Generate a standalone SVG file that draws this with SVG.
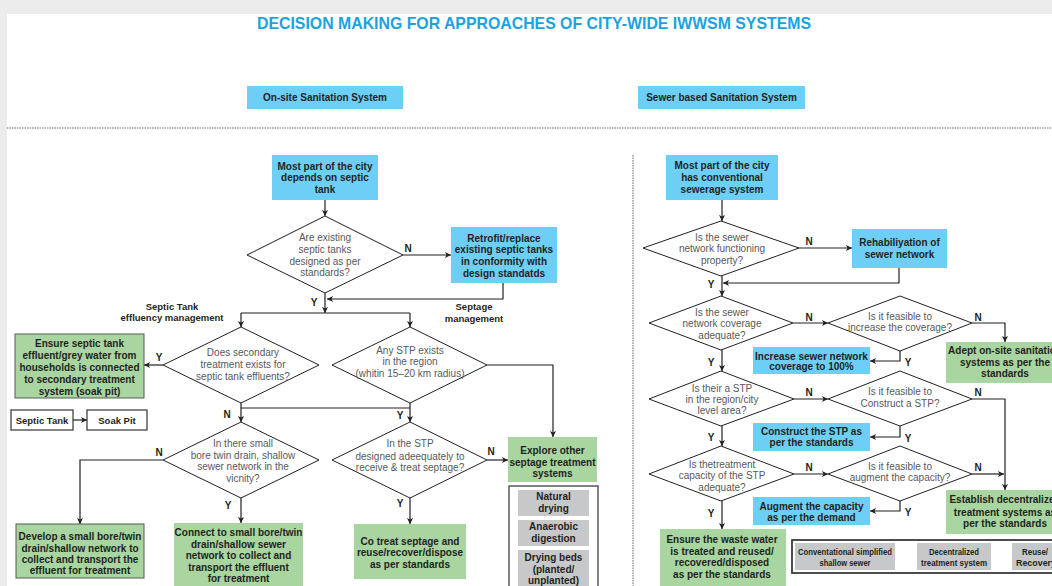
<svg xmlns="http://www.w3.org/2000/svg" width="1052" height="586" viewBox="0 0 1052 586">
<defs>
<marker id="ah" viewBox="0 0 10 10" refX="10" refY="5" markerWidth="7" markerHeight="6" markerUnits="userSpaceOnUse" orient="auto"><path d="M0,0 L10,5 L0,10 L2.5,5 z" fill="#231f20"/></marker>
<style>
text{font-family:"Liberation Sans Narrow","Arial Narrow","Liberation Sans",sans-serif;text-anchor:middle;font-size:10px}
.b{font-weight:bold;fill:#231f20}
.q{fill:#58595b}
.s{font-size:9.5px}
.blue{fill:#6dcff6}
.green{fill:#a8d5a0}
.gray{fill:#c7c8ca}
.gb{fill:#a8d5a0;stroke:#58595b;stroke-width:1}
.dm{fill:#fff;stroke:#231f20;stroke-width:1}
.c path,.c line{fill:none;stroke:#231f20;stroke-width:1.2}
.a{marker-end:url(#ah)}
.lbl{font-weight:bold;fill:#231f20;font-size:10px}
.lb2{font-weight:bold;fill:#231f20;font-size:9.5px}
</style>
</defs>
<rect width="1052" height="586" fill="#ececec"/>
<rect x="7" y="14" width="1045" height="572" fill="#fff"/>
<text x="534" y="29" style="font-size:17px;font-weight:bold;fill:#1aa3df" textLength="554" lengthAdjust="spacingAndGlyphs">DECISION MAKING FOR APPROACHES OF CITY-WIDE IWWSM SYSTEMS</text>
<g id="hdr-onsite"><rect class="blue" x="247" y="86" width="156" height="23"/><text class="b" x="325" y="101">On-site Sanitation System</text></g>
<g id="hdr-sewer"><rect class="blue" x="638" y="86" width="167" height="23"/><text class="b" x="721.5" y="101">Sewer based Sanitation System</text></g>
<line x1="7" y1="128" x2="1052" y2="128" stroke="#9a9a9a" stroke-width="1.5" stroke-dasharray="1.5,1"/>
<line x1="633" y1="155" x2="633" y2="586" stroke="#9a9a9a" stroke-width="1.5" stroke-dasharray="1.5,1"/>

<g class="c" id="connectors">
<path class="a" d="M325,200 V216"/>
<path class="a" d="M403,255 H451"/>
<path class="a" d="M503,283 V299 H327"/>
<path class="a" d="M325,293 V313"/>
<path d="M241,313 H410"/>
<path class="a" d="M241,313 V327"/>
<path class="a" d="M410,313 V327"/>
<path class="a" d="M163,365 H144"/>
<path class="a" d="M73,420 H87"/>
<path class="a" d="M241,403 V422"/>
<path d="M241,408 H410"/>
<path class="a" d="M410,403 V422"/>
<path class="a" d="M163,460 H80 V524"/>
<path class="a" d="M241,498 V523"/>
<path class="a" d="M487,365 H553 V437"/>
<path class="a" d="M487,460 H508"/>
<path class="a" d="M410,498 V524"/>
<path class="a" d="M722,200 V221"/>
<path class="a" d="M799,248 H852"/>
<path class="a" d="M899,268 V283 H723"/>
<path class="a" d="M722,276 V296"/>
<path class="a" d="M793,323 H828"/>
<path class="a" d="M972,323 H1005 V342"/>
<path class="a" d="M722,350 V371"/>
<path class="a" d="M900,351 V361 H870"/>
<path class="a" d="M794,399 H828"/>
<path class="a" d="M972,399 H1005 V490"/>
<path class="a" d="M900,426 V437 H870"/>
<path class="a" d="M722,426 V446"/>
<path class="a" d="M794,474 H828"/>
<path class="a" d="M972,474 H1004"/>
<path class="a" d="M900,501 V511 H870"/>
<path class="a" d="M722,501 V529"/>
<path class="a" d="M897,557 H915"/>
<path class="a" d="M993,557 H1010"/>
</g>

<g id="labels">
<text class="lbl" x="408" y="251.5">N</text>
<text class="lbl" x="314" y="305.5">Y</text>
<text class="lb2" x="474" y="309.5">Septage</text>
<text class="lb2" x="474" y="321.5">management</text>
<text class="lb2" x="172" y="309.5">Septic Tank</text>
<text class="lb2" x="172" y="320.5">effluency management</text>
<text class="lbl" x="159" y="360.5">Y</text>
<text class="lbl" x="227" y="417.5">N</text>
<text class="lbl" x="159" y="455.5">N</text>
<text class="lbl" x="228" y="508.5">Y</text>
<text class="lbl" x="400" y="418.5">Y</text>
<text class="lbl" x="491" y="454.5">N</text>
<text class="lbl" x="400" y="506.5">Y</text>
<text class="lbl" x="809" y="244.5">N</text>
<text class="lbl" x="711" y="287.5">Y</text>
<text class="lbl" x="809" y="320.5">N</text>
<text class="lbl" x="978" y="320.5">N</text>
<text class="lbl" x="711" y="365.5">Y</text>
<text class="lbl" x="908" y="365.5">Y</text>
<text class="lbl" x="809" y="395.5">N</text>
<text class="lbl" x="978" y="395.5">N</text>
<text class="lbl" x="711" y="440.5">Y</text>
<text class="lbl" x="908" y="441.5">Y</text>
<text class="lbl" x="809" y="470.5">N</text>
<text class="lbl" x="978" y="470.5">N</text>
<text class="lbl" x="711" y="516.5">Y</text>
<text class="lbl" x="908" y="515.5">Y</text>
</g>

<g id="n-septic-city"><rect class="blue" x="272" y="155" width="106" height="45"/>
<text class="b" x="325" y="169.5">Most part of the city</text><text class="b" x="325" y="180.5">depends on septic</text><text class="b" x="325" y="192.5">tank</text></g>
<g id="d-existing"><polygon class="dm" points="325,216 403,255 325,293 247,255"/>
<text class="q" x="325" y="241">Are existing</text><text class="q" x="325" y="252.5">septic tanks</text><text class="q" x="325" y="264.5">designed as per</text><text class="q" x="325" y="275.5">standards?</text></g>
<g id="n-retrofit"><rect class="blue" x="451" y="227" width="106" height="56"/>
<text class="b" x="504" y="241.5">Retrofit/replace</text><text class="b" x="504" y="253">existing septic tanks</text><text class="b" x="504" y="264.5">in conformity with</text><text class="b" x="504" y="276.5">design standatds</text></g>
<g id="d-secondary"><polygon class="dm" points="241,327 319,365 241,403 163,365"/>
<text class="q" x="243" y="355.5">Does secondary</text><text class="q" x="243" y="367.5">treatment exists for</text><text class="q" x="243" y="379.5">septic tank effluents?</text></g>
<g id="n-ensure-septic"><rect class="gb" x="15" y="334" width="129" height="64"/>
<text class="b" x="79.5" y="346.5">Ensure septic tank</text><text class="b" x="79.5" y="359">effluent/grey water from</text><text class="b" x="79.5" y="371">households is connected</text><text class="b" x="79.5" y="383">to secondary treatment</text><text class="b" x="79.5" y="395">system (soak pit)</text></g>
<g id="n-septic-tank"><rect x="11" y="410" width="62" height="20" fill="#fff" stroke="#231f20" stroke-width="1.1"/><text class="b" x="42" y="423.5" style="font-size:9.5px">Septic Tank</text></g>
<g id="n-soak-pit"><rect x="87" y="410" width="60" height="20" fill="#fff" stroke="#231f20" stroke-width="1.1"/><text class="b" x="117" y="423.5" style="font-size:9.5px">Soak Pit</text></g>
<g id="d-small-bore"><polygon class="dm" points="241,422 319,460 241,498 163,460"/>
<text class="q" x="243" y="446.5">In there small</text><text class="q" x="243" y="458.5">bore twin drain, shallow</text><text class="q" x="243" y="469.5">sewer network in the</text><text class="q" x="243" y="481.5">vicnity?</text></g>
<g id="n-develop"><rect class="gb" x="16" y="524" width="128" height="54"/>
<text class="b" x="80" y="539.5">Develop a small bore/twin</text><text class="b" x="80" y="551.5">drain/shallow network to</text><text class="b" x="80" y="562.5">collect and transport the</text><text class="b" x="80" y="573.5">effluent for treatment</text></g>
<g id="n-connect"><rect class="green" x="174" y="523" width="129" height="63"/>
<text class="b" x="238.5" y="535.5">Connect to small bore/twin</text><text class="b" x="238.5" y="547.5">drain/shallow sewer</text><text class="b" x="238.5" y="558.5">network to collect and</text><text class="b" x="238.5" y="570.5">transport the effluent</text><text class="b" x="238.5" y="581.5">for treatment</text></g>
<g id="d-any-stp"><polygon class="dm" points="410,327 487,365 410,403 332,365"/>
<text class="q" x="410" y="353.5">Any STP exists</text><text class="q" x="410" y="364.5">in the region</text><text class="q" x="410" y="376.5">(whitin 15–20 km radius)</text></g>
<g id="d-stp-designed"><polygon class="dm" points="410,422 487,460 410,498 332,460"/>
<text class="q" x="410" y="446.5">In the STP</text><text class="q" x="410" y="459.5">designed adeequately to</text><text class="q" x="410" y="470.5">receive &amp; treat septage?</text></g>
<g id="n-explore"><rect class="green" x="508" y="437" width="89" height="45"/>
<text class="b" x="552.5" y="453.5">Explore other</text><text class="b" x="552.5" y="465.5">septage treatment</text><text class="b" x="552.5" y="476.5">systems</text></g>
<g id="n-cotreat"><rect class="green" x="354" y="524" width="112" height="55"/>
<text class="b" x="410" y="544.5">Co treat septage and</text><text class="b" x="410" y="555.5">reuse/recover/dispose</text><text class="b" x="410" y="567.5">as per standards</text></g>
<g id="n-septage-options"><rect x="509" y="486" width="89" height="110" fill="#fff" stroke="#58595b" stroke-width="1.5"/>
<rect class="gray" x="518" y="490" width="71" height="26"/><text class="b" x="553.5" y="499.5">Natural</text><text class="b" x="553.5" y="511.5">drying</text>
<rect class="gray" x="518" y="520" width="71" height="26"/><text class="b" x="553.5" y="529.5">Anaerobic</text><text class="b" x="553.5" y="541.5">digestion</text>
<rect class="gray" x="518" y="550" width="71" height="40"/><text class="b" x="553.5" y="560.5">Drying beds</text><text class="b" x="553.5" y="572.5">(planted/</text><text class="b" x="553.5" y="583.5">unplanted)</text></g>

<g id="n-sewer-city"><rect class="blue" x="666" y="155" width="112" height="45"/>
<text class="b" x="722" y="169">Most part of the city</text><text class="b" x="722" y="180.5">has conventional</text><text class="b" x="722" y="192.5">sewerage system</text></g>
<g id="d-functioning"><polygon class="dm" points="721,221 799,248 721,276 643,248"/>
<text class="q" x="722" y="240.5">Is the sewer</text><text class="q" x="722" y="251.5">network functioning</text><text class="q" x="722" y="263.5">property?</text></g>
<g id="n-rehab"><rect class="blue" x="852" y="229" width="95" height="39"/>
<text class="b" x="899.5" y="245.5">Rehabiliyation of</text><text class="b" x="899.5" y="257.5">sewer network</text></g>
<g id="d-coverage"><polygon class="dm" points="721,296 793,323 721,350 649,323"/>
<text class="q" x="722" y="315.5">Is the sewer</text><text class="q" x="722" y="326.5">network coverage</text><text class="q" x="722" y="338.5">adequate?</text></g>
<g id="d-increase"><polygon class="dm" points="900,296 972,323 900,351 828,323"/>
<text class="q" x="900" y="319.5">Is it feasible to</text><text class="q" x="900" y="330.5">increase the coverage?</text></g>
<g id="n-adept"><rect class="green" x="946" y="342" width="120" height="41"/>
<text class="b" x="1005" y="353.5">Adept on-site sanitation</text><text class="b" x="1005" y="365.5">systems as per the</text><text class="b" x="1005" y="376.5">standards</text></g>
<g id="n-increase"><rect class="blue" x="753" y="347" width="117" height="27"/>
<text class="b" x="811.5" y="359.5">Increase sewer network</text><text class="b" x="811.5" y="369.5">coverage to 100%</text></g>
<g id="d-stp-region"><polygon class="dm" points="721,371 794,399 721,426 649,399"/>
<text class="q" x="722" y="391.5">Is their a STP</text><text class="q" x="722" y="402.5">in the region/city</text><text class="q" x="722" y="413.5">level area?</text></g>
<g id="d-construct"><polygon class="dm" points="900,371 972,399 900,426 828,399"/>
<text class="q" x="900" y="394.5">Is it feasible to</text><text class="q" x="900" y="406.5">Construct a STP?</text></g>
<g id="n-construct"><rect class="blue" x="753" y="423" width="117" height="28"/>
<text class="b" x="811.5" y="434.5">Construct the STP as</text><text class="b" x="811.5" y="445.5">per the standards</text></g>
<g id="d-capacity"><polygon class="dm" points="721,446 794,474 721,501 649,474"/>
<text class="q" x="722" y="467.5">Is thetreatment</text><text class="q" x="722" y="479">capacity of the STP</text><text class="q" x="722" y="490.5">adequate?</text></g>
<g id="d-augment"><polygon class="dm" points="900,446 972,474 900,501 828,474"/>
<text class="q" x="900" y="469.5">Is it feasible to</text><text class="q" x="900" y="480.5">augment the capacity?</text></g>
<g id="n-augment"><rect class="blue" x="753" y="497" width="117" height="28"/>
<text class="b" x="811.5" y="509.5">Augment the capacity</text><text class="b" x="811.5" y="520.5">as per the demand</text></g>
<g id="n-establish"><rect class="green" x="946" y="490" width="120" height="44"/>
<text class="b" x="1005" y="502.5">Establish decentralized</text><text class="b" x="1005" y="515.5">treatment systems as</text><text class="b" x="1005" y="526.5">per the standards</text></g>
<g id="n-ensure-waste"><rect class="green" x="660" y="529" width="126" height="60"/>
<text class="b" x="722" y="542.5">Ensure the waste water</text><text class="b" x="722" y="554.5">is treated and reused/</text><text class="b" x="722" y="565.5">recovered/disposed</text><text class="b" x="722" y="577.5">as per the standards</text></g>
<g id="n-sewer-options"><rect x="792" y="540" width="280" height="33" fill="#fff" stroke="#3a3a3a" stroke-width="1.8"/>
<rect class="gray" x="795" y="543" width="100" height="27"/><text class="b s" x="845" y="554.5" textLength="94" lengthAdjust="spacingAndGlyphs">Conventational simplified</text><text class="b s" x="845" y="565.5" textLength="51" lengthAdjust="spacingAndGlyphs">shallow sewer</text>
<rect class="gray" x="917" y="543" width="74" height="27"/><text class="b s" x="954" y="554.5" textLength="50" lengthAdjust="spacingAndGlyphs">Decentralized</text><text class="b s" x="954" y="565.5" textLength="66" lengthAdjust="spacingAndGlyphs">treatment system</text>
<rect class="gray" x="1012" y="543" width="50" height="27"/><text class="b s" x="1035" y="554.5" textLength="26" lengthAdjust="spacingAndGlyphs">Reuse/</text><text class="b s" x="1036" y="565.5" textLength="40" lengthAdjust="spacingAndGlyphs">Recovery</text></g>
</svg>
